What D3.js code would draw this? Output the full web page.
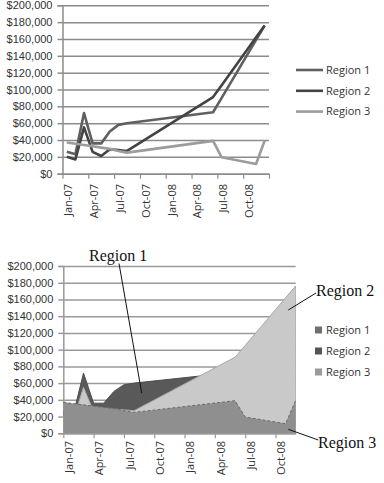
<!DOCTYPE html>
<html>
<head>
<meta charset="utf-8">
<script src="https://cdn.jsdelivr.net/npm/d3@7"></script>
<style>
  html, body { margin: 0; padding: 0; background: #fff; }
  svg { display: block; font-family: "Open Sans", "DejaVu Sans", sans-serif; }
  .lbl { font-size: 11px; fill: #333; }
  .note { font-family: "Liberation Serif", "DejaVu Serif", serif; font-size: 16px; fill: #111; }
</style>
</head>
<body>
<svg id="chart" width="384" height="483"></svg>
<script>
(() => {
  'use strict';

  // ── Data ──
  const dates   = ['2007-01', '2007-02', '2007-03', '2007-04', '2007-05', '2007-06', '2007-07', '2007-08',
                   '2008-06', '2008-07', '2008-11', '2008-12'];
  const region1 = [26000, 23000, 72000, 36000, 36000, 50000, 58000, 60000, 73000, 90000, 159000, 176000];
  const region2 = [20000, 17000, 55000, 26000, 21000, 29000, 28000, 27000, 91000, 105000, 162000, 176000];
  const region3 = [37000, 35500, 34000, 32500, 31000, 29500, 27000, 25000, 39000, 19500, 11500, 39500];
  const seriesNames = ['Region 1', 'Region 2', 'Region 3'];
  const xLabels = ['Jan-07', 'Apr-07', 'Jul-07', 'Oct-07', 'Jan-08', 'Apr-08', 'Jul-08', 'Oct-08'];
  const yTicks  = [0, 20000, 40000, 60000, 80000, 100000, 120000, 140000, 160000, 180000, 200000];

  // month index from Jan-07
  const monthIdx = s => { const [yy, mm] = s.split('-').map(Number); return (yy - 2007) * 12 + (mm - 1); };
  const idx = dates.map(monthIdx);
  const series = [region1, region2, region3].map((vals, k) => ({
    name: seriesNames[k],
    k,
    points: vals.map((v, i) => ({ m: idx[i], v }))
  }));
  const labelAt = m => xLabels[m / 3] || '';
  const money = d => '$' + d3.format(',')(d);

  const svg = d3.select('#chart');

  function yAxisAndGrid(g, x0, x1, y, gridColor) {
    g.append('g')
      .attr('transform', `translate(${x0},0)`)
      .call(d3.axisLeft(y).tickValues(yTicks).tickSize(-(x1 - x0)).tickFormat(''))
      .call(a => a.select('.domain').remove())
      .call(a => a.selectAll('line').attr('stroke', gridColor).attr('stroke-width', 1.5));

    g.append('g')
      .attr('transform', `translate(${x0},0)`)
      .call(d3.axisLeft(y).tickValues(yTicks).tickSize(5).tickPadding(5).tickFormat(money))
      .call(a => a.select('.domain').attr('stroke', gridColor).attr('stroke-width', 1.5))
      .call(a => a.selectAll('line').attr('stroke', gridColor).attr('stroke-width', 1.5))
      .call(a => a.selectAll('text').attr('class', 'lbl').attr('font-family', null).attr('font-size', null));
  }

  function xAxis(g, x, y0, ticks, labelTop, gridColor) {
    g.append('g')
      .attr('transform', `translate(0,${y0})`)
      .call(d3.axisBottom(x).tickValues(ticks).tickSize(5).tickSizeOuter(0).tickFormat(''))
      .call(a => a.select('.domain').attr('stroke', gridColor).attr('stroke-width', 1.5))
      .call(a => a.selectAll('line').attr('stroke', gridColor).attr('stroke-width', 1.2));

    g.append('g').selectAll('text')
      .data(ticks.filter(m => labelAt(m)))
      .join('text')
      .attr('class', 'lbl')
      .attr('text-anchor', 'end')
      .attr('dy', '0.35em')
      .attr('transform', m => `translate(${x(m) + 6},${labelTop}) rotate(-90)`)
      .text(labelAt);
  }

  // ── Line chart (top) ──
  const lineColors = ['#606060', '#444444', '#9c9c9c'];
  const top = svg.append('g');
  const xT = d3.scaleLinear().domain([0, 24]).range([62.5, 269]);
  const yT = d3.scaleLinear().domain([0, 200000]).range([173.7, 5.3]);

  yAxisAndGrid(top, 62.5, 269, yT, '#8c8c8c');
  xAxis(top, xT, 173.7, d3.range(0, 25, 3), 184, '#8c8c8c');

  const line = d3.line().x(d => xT(d.m + 0.5)).y(d => yT(d.v));
  top.selectAll('.series')
    .data(series)
    .join('path')
    .attr('fill', 'none')
    .attr('stroke', d => lineColors[d.k])
    .attr('stroke-width', 2.6)
    .attr('stroke-linejoin', 'round')
    .attr('d', d => line(d.points));

  const legTop = top.append('g').selectAll('g')
    .data(series)
    .join('g')
    .attr('transform', d => `translate(296,${70 + d.k * 20.8})`);
  legTop.append('line')
    .attr('x1', 0).attr('x2', 27)
    .attr('stroke', d => lineColors[d.k]).attr('stroke-width', 2.6);
  legTop.append('text')
    .attr('class', 'lbl').attr('x', 30).attr('dy', '0.35em')
    .text(d => d.name);

  // ── Area chart (bottom) ──
  const areaColors = ['#595959', '#c9c9c9', '#8f8f8f'];
  const edgeColors = ['#4d4d4d', '#a8a8a8', '#6a6a6a'];
  const legendSwatch = ['#707070', '#555555', '#9a9a9a'];
  const bot = svg.append('g');
  const xB = d3.scaleLinear().domain([0, 23]).range([63.3, 295.7]);
  const yB = d3.scaleLinear().domain([0, 200000]).range([433.3, 266]);

  yAxisAndGrid(bot, 63.3, 295.7, yB, '#9a9a9a');

  const area = d3.area().x(d => xB(d.m)).y0(yB(0)).y1(d => yB(d.v));
  const edge = d3.line().x(d => xB(d.m)).y(d => yB(d.v));
  // each series: fill then its own edge, so later series cover earlier edges
  const layers = bot.append('g').selectAll('g')
    .data(series)
    .join('g');
  layers.append('path')
    .attr('fill', d => areaColors[d.k])
    .attr('d', d => area(d.points));
  layers.append('path')
    .attr('fill', 'none')
    .attr('stroke', d => edgeColors[d.k])
    .attr('stroke-width', 1)
    .attr('stroke-dasharray', d => d.k === 2 ? '3 2' : null)
    .attr('d', d => edge(d.points));

  xAxis(bot, xB, 433.3, d3.range(0, 22, 3), 441, '#9a9a9a');

  const legBot = bot.append('g').selectAll('g')
    .data(series)
    .join('g')
    .attr('transform', d => `translate(315,${330 + d.k * 21})`);
  legBot.append('rect')
    .attr('x', 0).attr('y', -3.5).attr('width', 7).attr('height', 7)
    .attr('fill', d => legendSwatch[d.k]);
  legBot.append('text')
    .attr('class', 'lbl').attr('x', 11).attr('dy', '0.35em')
    .text(d => d.name);

  // callouts
  const notes = [
    { text: 'Region 1', tx: 89,  ty: 261,   x1: 119,   y1: 263.5, x2: 141.7, y2: 393 },
    { text: 'Region 2', tx: 316, ty: 295.5, x1: 316,   y1: 293,   x2: 288.3, y2: 310 },
    { text: 'Region 3', tx: 318, ty: 448,   x1: 318.3, y1: 440,   x2: 288.3, y2: 429.3 }
  ];
  const notesG = bot.append('g');
  notesG.selectAll('line')
    .data(notes)
    .join('line')
    .attr('x1', d => d.x1).attr('y1', d => d.y1)
    .attr('x2', d => d.x2).attr('y2', d => d.y2)
    .attr('stroke', '#111').attr('stroke-width', 1);
  notesG.selectAll('text')
    .data(notes)
    .join('text')
    .attr('class', 'note')
    .attr('x', d => d.tx).attr('y', d => d.ty)
    .text(d => d.text);
})();
</script>
</body>
</html>
